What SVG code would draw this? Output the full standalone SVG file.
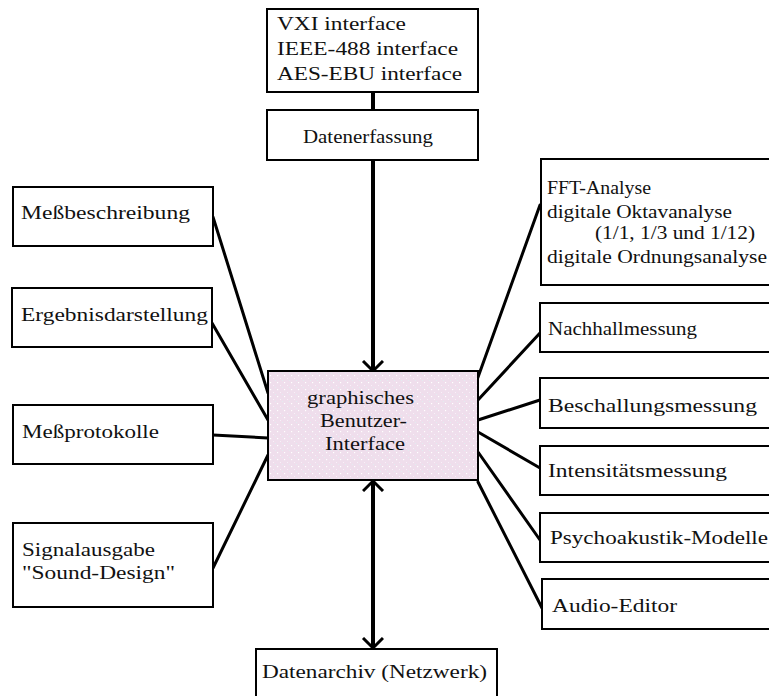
<svg xmlns="http://www.w3.org/2000/svg" width="769" height="696" viewBox="0 0 769 696">
<style>
.box{fill:#fff;stroke:#000;stroke-width:2}
.t{font-family:"Liberation Serif","Times New Roman",serif;font-size:18px;fill:#111}
.c{stroke:#000;stroke-width:3;fill:none;stroke-linecap:round}
.v{stroke:#000;stroke-width:4;fill:none}
</style>
<defs>
<pattern id="dots" width="7" height="7" patternUnits="userSpaceOnUse">
<rect width="7" height="7" fill="#efdeec"/>
<rect x="0" y="0" width="1" height="1" fill="#f8f0f8"/>
<rect x="2" y="2" width="1" height="1" fill="#e2ecf0"/>
<rect x="4" y="4" width="1.2" height="1.2" fill="#ffffff"/>
</pattern>
<marker id="arr" markerUnits="userSpaceOnUse" markerWidth="14" markerHeight="24" refX="11" refY="11" orient="auto-start-reverse">
<path d="M1,1 L11,11 L1,21" fill="none" stroke="#000" stroke-width="3"/>
</marker>
</defs>
<g id="connectors">
<line class="v" x1="373" y1="92" x2="373" y2="110"/>
<line class="v" x1="373" y1="160" x2="373" y2="371" marker-end="url(#arr)"/>
<line class="v" x1="373" y1="481" x2="373" y2="648" marker-start="url(#arr)" marker-end="url(#arr)"/>
<line class="c" x1="213" y1="217" x2="268" y2="393"/>
<line class="c" x1="212" y1="323" x2="268" y2="420"/>
<line class="c" x1="213" y1="435" x2="268" y2="438"/>
<line class="c" x1="213" y1="568" x2="268" y2="455"/>
<line class="c" x1="477" y1="380" x2="540" y2="205"/>
<line class="c" x1="478" y1="400" x2="540" y2="333"/>
<line class="c" x1="478" y1="420" x2="540" y2="400"/>
<line class="c" x1="478" y1="432" x2="540" y2="468"/>
<line class="c" x1="478" y1="452" x2="540" y2="540"/>
<line class="c" x1="478" y1="482" x2="542" y2="608"/>
</g>
<g id="interfaces">
<rect class="box" x="267" y="9" width="211" height="83"/>
<text class="t" x="277" y="30" textLength="129" lengthAdjust="spacingAndGlyphs">VXI interface</text>
<text class="t" x="277" y="55" textLength="181" lengthAdjust="spacingAndGlyphs">IEEE-488 interface</text>
<text class="t" x="277" y="80" textLength="185" lengthAdjust="spacingAndGlyphs">AES-EBU interface</text>
</g>
<g id="datenerfassung">
<rect class="box" x="267" y="110" width="211" height="50"/>
<text class="t" x="303" y="143" textLength="130" lengthAdjust="spacingAndGlyphs">Datenerfassung</text>
</g>
<g id="gui">
<rect x="268" y="371" width="210" height="109" fill="url(#dots)" stroke="#000" stroke-width="2"/>
<text class="t" x="307" y="404" textLength="107" lengthAdjust="spacingAndGlyphs">graphisches</text>
<text class="t" x="320" y="427" textLength="87" lengthAdjust="spacingAndGlyphs">Benutzer-</text>
<text class="t" x="325" y="450" textLength="80" lengthAdjust="spacingAndGlyphs">Interface</text>
</g>
<g id="datenarchiv">
<rect class="box" x="256" y="649" width="241" height="60"/>
<text class="t" x="262" y="678" textLength="225" lengthAdjust="spacingAndGlyphs">Datenarchiv (Netzwerk)</text>
</g>
<g id="messbeschreibung">
<rect class="box" x="13" y="187" width="200" height="59"/>
<text class="t" x="21" y="219" textLength="169" lengthAdjust="spacingAndGlyphs">Meßbeschreibung</text>
</g>
<g id="ergebnisdarstellung">
<rect class="box" x="12" y="288" width="200" height="59"/>
<text class="t" x="21" y="321" textLength="187" lengthAdjust="spacingAndGlyphs">Ergebnisdarstellung</text>
</g>
<g id="messprotokolle">
<rect class="box" x="13" y="405" width="200" height="59"/>
<text class="t" x="22" y="438" textLength="137" lengthAdjust="spacingAndGlyphs">Meßprotokolle</text>
</g>
<g id="signalausgabe">
<rect class="box" x="13" y="523" width="200" height="84"/>
<text class="t" x="22" y="556" textLength="133" lengthAdjust="spacingAndGlyphs">Signalausgabe</text>
<text class="t" x="22" y="579" textLength="153" lengthAdjust="spacingAndGlyphs">"Sound-Design"</text>
</g>
<g id="analyse">
<rect class="box" x="541" y="159" width="240" height="126"/>
<text class="t" x="547" y="194" textLength="104" lengthAdjust="spacingAndGlyphs">FFT-Analyse</text>
<text class="t" x="547" y="218" textLength="185" lengthAdjust="spacingAndGlyphs">digitale Oktavanalyse</text>
<text class="t" x="595" y="239" textLength="160" lengthAdjust="spacingAndGlyphs">(1/1, 1/3 und 1/12)</text>
<text class="t" x="547" y="263" textLength="220" lengthAdjust="spacingAndGlyphs">digitale Ordnungsanalyse</text>
</g>
<g id="nachhallmessung">
<rect class="box" x="540" y="303" width="240" height="49"/>
<text class="t" x="548" y="335" textLength="149" lengthAdjust="spacingAndGlyphs">Nachhallmessung</text>
</g>
<g id="beschallungsmessung">
<rect class="box" x="540" y="378" width="240" height="50"/>
<text class="t" x="548" y="412" textLength="209" lengthAdjust="spacingAndGlyphs">Beschallungsmessung</text>
</g>
<g id="intensitaetsmessung">
<rect class="box" x="540" y="446" width="240" height="49"/>
<text class="t" x="548" y="477" textLength="179" lengthAdjust="spacingAndGlyphs">Intensitätsmessung</text>
</g>
<g id="psychoakustik">
<rect class="box" x="540" y="513" width="240" height="49"/>
<text class="t" x="550" y="544" textLength="218" lengthAdjust="spacingAndGlyphs">Psychoakustik-Modelle</text>
</g>
<g id="audioeditor">
<rect class="box" x="542" y="579" width="240" height="50"/>
<text class="t" x="552" y="612" textLength="125" lengthAdjust="spacingAndGlyphs">Audio-Editor</text>
</g>
</svg>
